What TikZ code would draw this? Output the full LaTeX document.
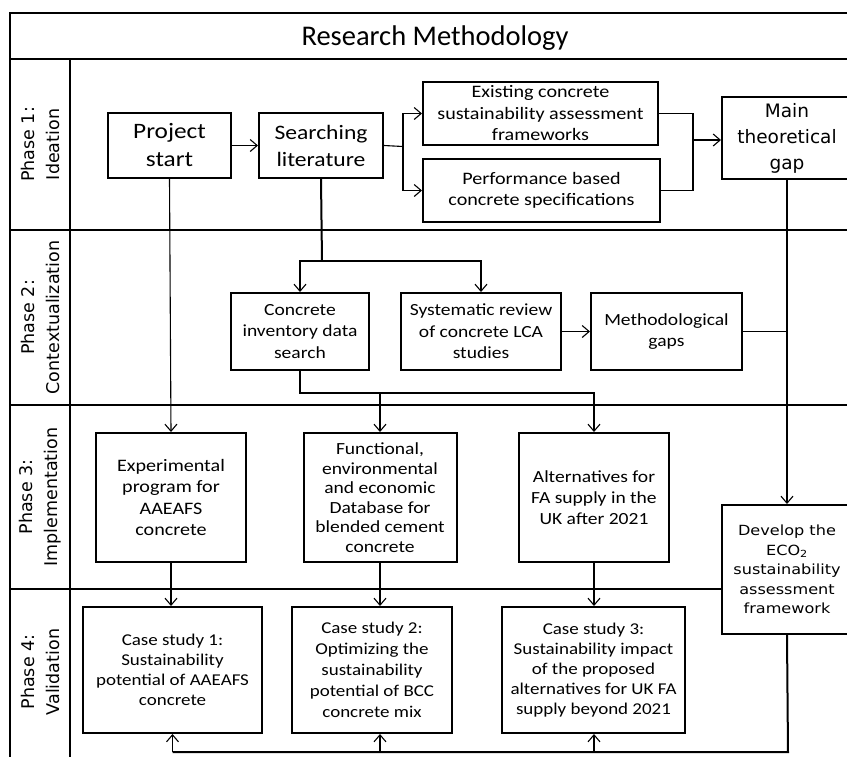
\documentclass[tikz,border=0pt]{standalone}
\usepackage{fontspec}
\setmainfont{Carlito}
\newfontfamily\boxfont[FakeStretch=1.15]{Carlito}
\newfontfamily\widefont{DejaVu Sans}
\newfontfamily\widestretch[FakeStretch=1.15]{DejaVu Sans}
\usetikzlibrary{arrows.meta}
\newcommand{\fs}[2]{\fontsize{#1}{#2}\selectfont}
\begin{document}
\begin{tikzpicture}[x=1pt,y=-1pt,
  box/.style={draw,fill=white,line width=2pt,align=center,inner sep=0pt},
  link/.style={line width=1.1pt},
  heavylink/.style={line width=2pt},
  arr/.style={link,-{Straight Barb[length=7pt,width=12pt]}},
  frameline/.style={line width=2pt},
  phase/.style={rotate=90,align=center,font=\widefont\fs{17.5}{25}}]
\useasboundingbox (0,0) rectangle (847,756);
\clip (0,0) rectangle (847,756);
\fill[white] (0,0) rectangle (847,756);

% swimlane frame
\draw[frameline] (10,770) -- (10,13) -- (870,13);
\draw[frameline] (10,59) -- (870,59);
\draw[frameline] (70,59) -- (70,770);
\draw[frameline] (10,230) -- (870,230);
\draw[frameline] (10,405) -- (870,405);
\draw[frameline] (10,589) -- (870,589);

\node[font=\fs{28.5}{28.5}] (title) at (435,38) {Research Methodology};

\node[phase] (p1) at (40,144.5) {Phase 1:\\Ideation};
\node[phase] (p2) at (40,317.5) {Phase 2:\\Contextualization};
\node[phase] (p3) at (40,497) {Phase 3:\\Implementation};
\node[phase] (p4) at (40,672) {Phase 4:\\Validation};

% phase 1
\node[box,minimum width=123,minimum height=65,font=\boxfont\fs{22}{28}] (ps) at (169.5,145.5) {Project\\start};
\node[box,minimum width=124,minimum height=65,font=\boxfont\fs{20.5}{27}] (sl) at (321,145.5) {Searching\\literature};
\node[box,minimum width=235,minimum height=63,font=\boxfont\fs{17.5}{21.5}] (ex) at (540.5,113.5) {Existing concrete\\sustainability assessment\\frameworks};
\node[box,minimum width=237,minimum height=63,font=\boxfont\fs{17.5}{21.5}] (pb) at (541.5,190.5) {Performance based\\concrete specifications};
\node[box,minimum width=130,minimum height=82,font=\widefont\fs{18.5}{26}] (mg) at (787,138) {Main\\theoretical\\gap};

% phase 2
\node[box,minimum width=138,minimum height=77,font=\boxfont\fs{17}{21.5}] (ci) at (300,331.5) {Concrete\\inventory data\\search};
\node[box,minimum width=160,minimum height=77,font=\boxfont\fs{17}{21.5}] (sr) at (481,331.5) {Systematic review\\of concrete LCA\\studies};
\node[box,minimum width=151,minimum height=77,font=\boxfont\fs{17}{21.5}] (mt) at (666.5,331.5) {Methodological\\gaps};

% phase 3
\node[box,minimum width=150,minimum height=129,font=\boxfont\fs{17.5}{21.5}] (ep) at (171,497.5) {Experimental\\program for\\AAEAFS\\concrete};
\node[box,minimum width=153,minimum height=129,font=\boxfont\fs{17}{19.5}] (fe) at (380,497.5) {Functional,\\environmental\\and economic\\Database for\\blended cement\\concrete};
\node[box,minimum width=150,minimum height=129,font=\boxfont\fs{17}{21}] (al) at (594,497.5) {Alternatives for\\FA supply in the\\UK after 2021};
\node[box,minimum width=130,minimum height=129,font=\widestretch\fs{14}{19.5}] (dv) at (787,569.5) {Develop the\\ECO\textsubscript{2}\\sustainability\\assessment\\framework};

% phase 4
\node[box,minimum width=179,minimum height=126,font=\boxfont\fs{16.5}{20}] (c1) at (172.5,670) {Case study 1:\\Sustainability\\potential of AAEAFS\\concrete};
\node[box,minimum width=160,minimum height=126,font=\boxfont\fs{16.5}{21}] (c2) at (372,670) {Case study 2:\\Optimizing the\\sustainability\\potential of BCC\\concrete mix};
\node[box,minimum width=183,minimum height=126,font=\boxfont\fs{16.5}{20}] (c3) at (593.5,670) {Case study 3:\\Sustainability impact\\of the proposed\\alternatives for UK FA\\supply beyond 2021};

% connectors
\coordinate (j1) at (403,146.5);
\coordinate (j2) at (693,140);
\coordinate (s1) at (322,261);
\coordinate (fb) at (788,752);

\draw[arr] (ps) -- (sl);
\draw[link] (sl.east) -- (j1);
\draw[arr] (j1) |- (ex.west);
\draw[arr] (j1) |- (pb.west);
\draw[link] (ex.east) -| (j2);
\draw[link] (pb.east) -| (j2);
\draw[arr] (j2) -- (mg.west |- j2);

\draw[heavylink] (sl.south) -- (s1);
\draw[arr] (s1) -| (ci.north);
\draw[arr] (s1) -| (sr.north);
\draw[arr] (sr) -- (mt);
\draw[link] (mt.east) -- (mt.east -| mg.south);
\draw[arr] (mg.south) -- (dv.north);

\draw[arr] (ps.south) -- (ep.north);
\draw[arr] (ci.south) -- ++(0,22) -| (fe.north);
\draw[arr] (ci.south) -- ++(0,22) -| (al.north);

\draw[arr] (ep.south) -- (ep.south |- c1.north);
\draw[arr] (fe.south) -- (fe.south |- c2.north);
\draw[arr] (al.south) -- (al.south |- c3.north);

\draw[heavylink] (dv.south) -- (fb) -- (c1.south |- fb);
\draw[arr] (c1.south |- fb) -- (c1.south);
\draw[arr] (fe.south |- fb) -- (fe.south |- c2.south);
\draw[arr] (al.south |- fb) -- (al.south |- c3.south);
\end{tikzpicture}
\end{document}
